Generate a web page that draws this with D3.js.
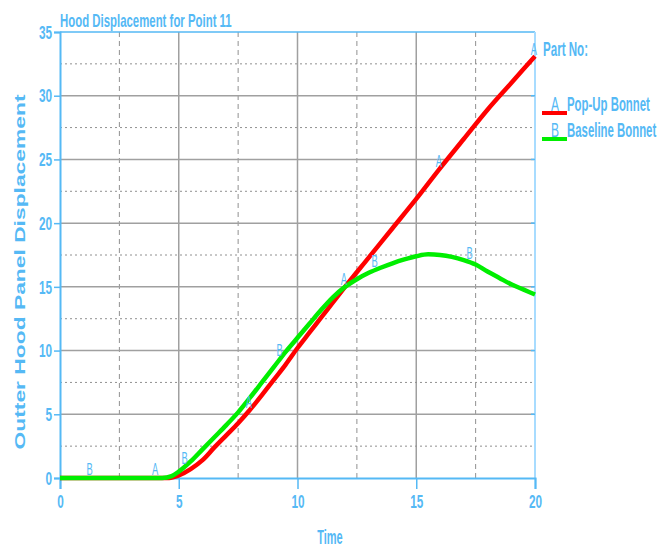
<!DOCTYPE html>
<html><head><meta charset="utf-8">
<script src="https://cdn.jsdelivr.net/npm/d3@7"></script>
<style>body{margin:0;background:#fff}</style>
</head><body>
<svg id="c" width="671" height="547"></svg>
<script>
const title = "Hood Displacement for Point 11";
const xLabel = "Time";
const yLabel = "Outter Hood Panel Displacement";
const legendTitle = "Part No:";
const seriesNames = ["Pop-Up Bonnet", "Baseline Bonnet"];
const seriesLetters = ["A", "B"];
const seriesColors = ["#ff0000", "#00ee00"];
const xTicks = [0, 5, 10, 15, 20];
const yTicks = [0, 5, 10, 15, 20, 25, 30, 35];

const timeA = [0, 4.6, 5, 5.5, 6, 6.5, 7, 7.5, 8, 8.5, 9, 9.5, 10, 10.5, 11, 11.5, 12, 13, 14, 15, 16, 17, 18, 19, 20];
const popUp = [0, 0, 0.2, 0.7, 1.4, 2.4, 3.35, 4.3, 5.35, 6.5, 7.7, 8.9, 10.2, 11.4, 12.6, 13.8, 15.0, 17.3, 19.6, 21.9, 24.3, 26.6, 28.9, 31.0, 33.1];
const timeB = [0, 4.3, 4.7, 5, 5.5, 6, 6.5, 7, 7.5, 8, 8.5, 9, 9.5, 10, 10.5, 11, 11.5, 12, 12.5, 13, 13.5, 14, 14.5, 15, 15.5, 16, 16.5, 17, 17.5, 18, 18.5, 19, 19.5, 20];
const baseline = [0, 0, 0.15, 0.5, 1.3, 2.25, 3.2, 4.15, 5.15, 6.3, 7.5, 8.7, 9.9, 11.0, 12.1, 13.2, 14.2, 15.0, 15.6, 16.1, 16.5, 16.85, 17.15, 17.4, 17.55, 17.5, 17.35, 17.1, 16.75, 16.2, 15.7, 15.2, 14.8, 14.4];
const markA = [4, 7.95, 11.95, 15.95, 19.95];
const markB = [1.25, 5.25, 9.25, 13.25, 17.25];

const blue = "#55b9f5";
const font = "'Liberation Sans',Arial,sans-serif";
const svg = d3.select("#c");
const m = {l: 60, r: 136, t: 32, b: 69};
const W = 671, H = 547;
const x = d3.scaleLinear().domain([0, 20]).range([m.l, W - m.r]);
const y = d3.scaleLinear().domain([0, 35]).range([H - m.b, m.t]);

function squeeze(sel, f) {
  sel.each(function() {
    const L = this.getComputedTextLength();
    d3.select(this).attr("textLength", L * f).attr("lengthAdjust", "spacingAndGlyphs");
  });
  return sel;
}

// grid
const g = svg.append("g");
d3.range(2.5, 20, 2.5).forEach(v => {
  const major = v % 5 === 0;
  g.append("line").attr("x1", x(v)).attr("x2", x(v)).attr("y1", y(0)).attr("y2", y(35))
    .attr("stroke", major ? "#a0a0a0" : "#909090").attr("stroke-width", major ? 1.5 : 1)
    .attr("stroke-dasharray", major ? null : "5,4");
});
d3.range(2.5, 35, 2.5).forEach(v => {
  const major = v % 5 === 0;
  g.append("line").attr("x1", x(0)).attr("x2", x(20)).attr("y1", y(v)).attr("y2", y(v))
    .attr("stroke", major ? "#a0a0a0" : "#909090").attr("stroke-width", major ? 1.5 : 1)
    .attr("stroke-dasharray", major ? null : "2,3");
});

// frame
svg.append("line").attr("x1", x(0)).attr("x2", x(20)).attr("y1", y(35)).attr("y2", y(35)).attr("stroke", blue).attr("stroke-width", 1.5);
svg.append("line").attr("x1", x(20)).attr("x2", x(20)).attr("y1", y(35)).attr("y2", y(0)).attr("stroke", "#a8dcff").attr("stroke-width", 2);
yTicks.slice(1, -1).forEach(v => svg.append("line").attr("x1", x(20) - 4).attr("x2", x(20)).attr("y1", y(v)).attr("y2", y(v)).attr("stroke", blue).attr("stroke-width", 1.5));

// axes
const ax = svg.append("g").attr("transform", `translate(0,${y(0)})`)
  .call(d3.axisBottom(x).tickValues(xTicks).tickSize(11).tickPadding(4));
const ay = svg.append("g").attr("transform", `translate(${x(0)},0)`)
  .call(d3.axisLeft(y).tickValues(yTicks).tickSize(6).tickPadding(2));
[ax, ay].forEach(a => {
  a.select(".domain").attr("stroke", blue).attr("stroke-width", 2);
  a.selectAll(".tick line").attr("stroke", blue).attr("stroke-width", 1.5);
  a.selectAll(".tick text").attr("fill", blue).style("font-family", font)
    .style("font-weight", "bold").style("font-size", "19px");
});
ax.selectAll(".tick text").attr("y", 30).attr("dy", null);
ay.selectAll(".tick text").attr("dy", "0.33em");
squeeze(ax.selectAll(".tick text"), 0.62);
squeeze(ay.selectAll(".tick text"), 0.62);

// lines
const line = d3.line().x(d => x(d[0])).y(d => y(d[1])).curve(d3.curveMonotoneX);
const dataA = timeA.map((t, i) => [t, popUp[i]]);
const dataB = timeB.map((t, i) => [t, baseline[i]]);
svg.append("path").datum(dataA).attr("d", line).attr("fill", "none").attr("stroke", seriesColors[0]).attr("stroke-width", 4.5);
svg.append("path").datum(dataB).attr("d", line).attr("fill", "none").attr("stroke", seriesColors[1]).attr("stroke-width", 4.5);

// markers
function interp(ts, vs, t) { return d3.scaleLinear().domain(ts).range(vs)(t); }
const mk = svg.append("g").style("font-family", font).style("font-size", "17px").attr("fill", blue).attr("text-anchor", "middle");
markA.forEach(t => mk.append("text").attr("x", x(t)).attr("y", y(interp(timeA, popUp, t)) - 3).text(seriesLetters[0]));
markB.forEach(t => mk.append("text").attr("x", x(t)).attr("y", y(interp(timeB, baseline, t)) - 3).text(seriesLetters[1]));
squeeze(mk.selectAll("text"), 0.55);

// title
squeeze(svg.append("text").attr("x", 60).attr("y", 27).attr("fill", blue).style("font-family", font)
  .style("font-weight", "bold").style("font-size", "19px").text(title), 0.6);
squeeze(svg.append("text").attr("x", 330).attr("y", 544).attr("text-anchor", "middle").attr("fill", blue)
  .style("font-family", font).style("font-weight", "bold").style("font-size", "20px").text(xLabel), 0.55);
svg.append("text").attr("transform", `translate(25,${272}) rotate(-90)`).attr("text-anchor", "middle")
  .attr("fill", blue).style("font-family", font).style("font-weight", "bold")
  .style("font-size", "14px").attr("textLength", 355).attr("lengthAdjust", "spacingAndGlyphs").text(yLabel);

// legend
const lg = svg.append("g").style("font-family", font).style("font-weight", "bold").attr("fill", blue);
lg.append("text").attr("transform", "translate(543,56) scale(0.58,1)").style("font-size", "20px").text(legendTitle);
[0, 1].forEach(i => {
  const ly = 113 + i * 26;
  lg.append("line").attr("x1", 542).attr("x2", 567).attr("y1", ly).attr("y2", ly).attr("stroke", seriesColors[i]).attr("stroke-width", 4);
  lg.append("text").attr("transform", `translate(555,${ly - 2}) scale(0.6,1)`).attr("text-anchor", "middle").style("font-size", "20px").style("font-weight", "normal").text(seriesLetters[i]);
  lg.append("text").attr("transform", `translate(567,${ly - 2}) scale(0.57,1)`).style("font-size", "20px").text(seriesNames[i]);
});
</script>
</body></html>
